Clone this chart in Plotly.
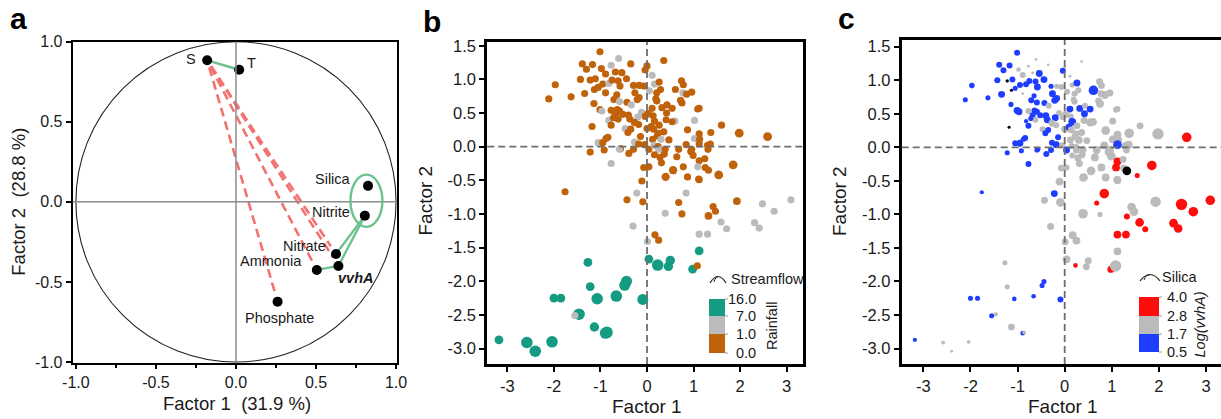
import plotly.graph_objects as go

W, H = 1221, 419
FONT = "Liberation Sans, Arial, Helvetica, sans-serif"
INK = "#1a1a1a"


def PX(x):
    return x / W


def PY(y):
    return 1 - y / H


# ---------------- Panel a : factor loadings ----------------
var_names = ["S", "T", "Silica", "Nitrite", "Nitrate", "vvhA", "Ammonia", "Phosphate"]
load_f1 = [-0.18, 0.02, 0.825, 0.805, 0.625, 0.64, 0.505, 0.26]
load_f2 = [0.884, 0.825, 0.10, -0.086, -0.326, -0.40, -0.425, -0.623]
green_links = [("S", "T"), ("Ammonia", "vvhA"), ("vvhA", "Nitrite"), ("Nitrate", "Nitrite")]
red_links = [("S", "Phosphate"), ("S", "Ammonia"), ("S", "Nitrate"), ("S", "vvhA")]
grouped = ["Silica", "Nitrite"]

# ---------------- Panels b, c : factor scores ----------------
f1 = [
    -1.01, -0.61, 0.36, -1.39, -1.17, -0.77, -0.35, 0.00, -1.30, -0.98,
    -0.68, -0.54, -0.89, -0.04, 0.11, -1.43, -1.22, -1.11, -0.95, -0.82,
    -0.75, -0.62, -0.44, -0.58, -1.97, -1.13, -1.05, -0.89, -0.29, -0.17,
    -0.07, -0.26, 0.05, 0.16, 0.26, 0.21, 0.29, 0.74, 0.78, 0.61,
    0.77, 0.85, 0.96, -2.11, -1.63, -1.34, -0.65, -0.71, -0.59, -0.43,
    -0.34, -0.21, -0.17, 0.19, 0.21, 0.72, 0.75, -1.14, -1.01, -0.97,
    -0.77, -0.64, -0.59, -0.52, -0.68, -0.40, -0.12, 0.11, 0.32, 0.43,
    0.54, 0.42, 1.09, 1.12, -0.82, -0.77, -0.62, -0.72, -0.37, -0.20,
    -0.27, -0.18, -0.04, 0.02, 0.13, 0.16, 0.26, 0.41, 0.60, 1.02,
    -1.18, -0.47, -0.35, -0.41, 0.00, 0.09, 0.14, 0.24, 0.36, 0.54,
    0.87, 1.12, -0.84, -0.88, -1.05, -0.95, -0.57, -0.27, -0.18, -0.14,
    0.12, 0.22, 0.30, 0.47, 0.84, 1.02, 1.13, 1.30, -1.22, -0.92,
    -0.59, -0.39, -0.29, -0.05, 0.04, 0.15, 0.24, 0.25, 0.16, 0.39,
    0.37, 0.28, 0.64, 0.68, 0.94, 0.99, 0.96, 1.12, 1.09, 1.25,
    -0.77, -0.07, 0.04, 0.31, 0.78, 0.56, 0.40, 0.87, 1.12, -0.11,
    -1.76, -0.22, 0.84, -0.43, -0.09, 0.68, 1.60, 1.37, 1.98, 2.59,
    1.36, 1.31, 1.24, 1.32, 1.85, 1.54, 1.11, 1.93, 1.42, 1.47,
    1.32, 2.48, 3.09, 2.73, 1.59, 1.71, 2.31, 2.41, 1.12, 1.30,
    1.12, 0.39, 0.75, -0.30, 0.17, 0.25, 0.01, 0.04, 0.23, 0.50,
    0.46, 0.98, 1.08, -1.27, -0.44, -0.48, -1.22, -2.00, -1.85, -1.07,
    -0.66, -0.09, -1.46, -1.55, -1.13, -0.89, -0.86, -3.18, -2.58, -2.40,
    -2.04, 1.12,
]
f2 = [
    1.41, 1.31, 1.28, 1.23, 1.22, 1.21, 1.23, 1.20, 1.15, 1.16,
    1.11, 1.10, 1.08, 1.14, 1.06, 1.00, 0.99, 1.01, 0.93, 0.94,
    0.99, 0.98, 1.01, 0.90, 0.92, 0.85, 0.88, 0.80, 0.91, 0.91,
    0.90, 0.80, 0.83, 0.93, 0.96, 0.80, 0.85, 0.98, 0.92, 0.85,
    0.80, 0.78, 0.81, 0.71, 0.74, 0.79, 0.77, 0.70, 0.67, 0.66,
    0.62, 0.70, 0.73, 0.71, 0.68, 0.69, 0.65, 0.64, 0.55, 0.53,
    0.54, 0.55, 0.53, 0.48, 0.48, 0.47, 0.51, 0.57, 0.58, 0.62,
    0.57, 0.50, 0.56, 0.57, 0.39, 0.32, 0.41, 0.43, 0.41, 0.44,
    0.36, 0.33, 0.45, 0.49, 0.46, 0.38, 0.32, 0.40, 0.38, 0.39,
    0.30, 0.27, 0.26, 0.21, 0.27, 0.30, 0.26, 0.20, 0.22, 0.37,
    0.25, 0.19, 0.14, 0.12, 0.06, 0.06, -0.03, 0.07, 0.04, 0.15,
    0.11, 0.16, 0.11, 0.10, 0.03, 0.12, 0.11, 0.02, -0.08, -0.05,
    -0.04, -0.10, -0.04, 0.03, -0.04, 0.02, 0.00, -0.04, -0.12, -0.04,
    -0.11, -0.16, -0.15, -0.04, -0.07, -0.13, -0.04, -0.21, -0.30, -0.31,
    -0.25, -0.31, -0.30, -0.24, -0.30, -0.35, -0.45, -0.45, -0.49, -0.51,
    -0.67, -0.69, -0.69, -0.79, -0.82, -0.83, 0.32, 0.21, 0.20, 0.15,
    0.04, -0.04, -0.18, -0.35, -0.27, -0.42, -0.48, -0.81, -0.89, -0.96,
    -1.03, -0.85, -0.79, -0.96, -1.12, -1.22, -1.13, -1.21, -1.30, -1.30,
    -1.55, -0.99, -1.00, -1.18, -1.31, -1.39, -1.41, -1.67, -1.76, -1.69,
    -1.78, -1.82, -1.77, -1.72, -2.00, -2.06, -2.08, -2.25, -2.25, -2.26,
    -2.22, -2.27, -2.49, -2.51, -2.68, -2.77, -2.76, -2.87, -2.91, -3.04,
    -2.90, 0.04,
]
rainfall = [
    0.4, 3.0, 0.4, 0.4, 0.4, 3.0, 0.4, 0.4, 0.4, 0.4,
    0.4, 0.4, 0.4, 0.4, 3.0, 0.4, 0.4, 0.4, 0.4, 3.0,
    0.4, 0.4, 0.4, 0.4, 0.4, 0.4, 0.4, 0.4, 0.4, 0.4,
    0.4, 0.4, 3.0, 3.0, 0.4, 0.4, 0.4, 0.4, 0.4, 0.4,
    3.0, 0.4, 0.4, 0.4, 0.4, 0.4, 0.4, 0.4, 3.0, 0.4,
    3.0, 0.4, 0.4, 0.4, 0.4, 0.4, 0.4, 0.4, 0.4, 3.0,
    0.4, 0.4, 0.4, 0.4, 0.4, 0.4, 3.0, 0.4, 0.4, 0.4,
    0.4, 0.4, 0.4, 0.4, 3.0, 0.4, 0.4, 0.4, 0.4, 3.0,
    0.4, 0.4, 0.4, 0.4, 0.4, 0.4, 0.4, 0.4, 3.0, 3.0,
    0.4, 3.0, 0.4, 0.4, 0.4, 0.4, 0.4, 0.4, 0.4, 0.4,
    0.4, 0.4, 0.4, 0.4, 3.0, 0.4, 0.4, 3.0, 0.4, 0.4,
    0.4, 0.4, 3.0, 0.4, 0.4, 3.0, 0.4, 0.4, 0.4, 0.4,
    3.0, 0.4, 0.4, 0.4, 0.4, 3.0, 0.4, 3.0, 0.4, 0.4,
    0.4, 0.4, 0.4, 0.4, 0.4, 0.4, 0.4, 0.4, 3.0, 0.4,
    3.0, 0.4, 0.4, 0.4, 0.4, 0.4, 0.4, 0.4, 0.4, 0.4,
    0.4, 3.0, 3.0, 0.4, 0.4, 0.4, 0.4, 0.4, 0.4, 0.4,
    0.4, 0.4, 0.4, 0.4, 0.4, 0.4, 0.4, 0.4, 0.4, 0.4,
    0.4, 3.0, 3.0, 3.0, 3.0, 3.0, 3.0, 3.0, 3.0, 3.0,
    10.0, 3.0, 0.4, 3.0, 0.4, 0.4, 3.0, 10.0, 10.0, 10.0,
    10.0, 10.0, 0.4, 10.0, 10.0, 10.0, 10.0, 10.0, 10.0, 10.0,
    10.0, 10.0, 10.0, 3.0, 10.0, 10.0, 10.0, 10.0, 10.0, 10.0,
    10.0, 0.4,
]
streamflow = [
    1, 1, 1, 1, 1, 1, 1, 1, 1, 1,
    1, 1, 1, 1, 1, 1, 1, 1, 1, 1,
    1, 1, 1, 1, 1, 1, 1, 1, 1, 1,
    1, 1, 1, 1, 1, 1, 1, 1, 1, 1,
    1, 1, 1, 1, 1, 1, 1, 1, 1, 1,
    1, 1, 1, 1, 1, 1, 1, 1, 1, 1,
    1, 1, 1, 1, 1, 1, 1, 1, 1, 1,
    1, 1, 1, 1, 1, 1, 1, 1, 1, 1,
    1, 1, 1, 1, 1, 1, 1, 1, 1, 1,
    1, 1, 1, 1, 1, 1, 1, 1, 1, 1,
    1, 1, 1, 1, 1, 1, 1, 1, 1, 1,
    1, 1, 1, 1, 1, 1, 1, 1, 1, 1,
    1, 1, 1, 1, 1, 1, 1, 1, 1, 1,
    1, 1, 1, 1, 1, 1, 1, 1, 1, 1,
    1, 1, 1, 1, 1, 3, 3, 1, 1, 1,
    1, 1, 1, 1, 1, 1, 1, 1, 4, 4,
    1, 1, 1, 1, 4, 4, 1, 2, 1, 1,
    2, 1, 1, 1, 1, 1, 1, 1, 1, 1,
    4, 1, 1, 1, 1, 1, 1, 4, 9, 5,
    5, 4, 1, 4, 8, 8, 4, 4, 4, 9,
    9, 8, 9, 1, 5, 9, 9, 4, 9, 9,
    9, 1,
]
log_vvha = [
    1.2, 2.2, 2.2, 1.2, 1.2, 2.2, 2.2, 2.2, 1.2, 2.2,
    2.2, 1.2, 2.2, 1.2, 2.2, 1.2, None, 1.2, 1.2, 1.2,
    1.2, 1.2, 1.2, 1.2, 1.2, None, 1.2, 2.2, 1.2, 2.2,
    2.2, 1.2, 2.2, 2.2, 1.2, 2.2, 2.2, 2.2, 2.2, 1.2,
    2.2, 2.2, 2.2, 1.2, 1.2, 1.2, 1.2, 1.2, 1.2, 1.2,
    2.2, 1.2, 1.2, 2.2, 2.2, 2.2, 2.2, 1.2, 1.2, 1.2,
    2.2, 1.2, 1.2, 1.2, 1.2, 1.2, 2.2, 1.2, 1.2, 2.2,
    1.2, 1.2, 2.2, 2.2, 1.2, 1.2, 2.2, 1.2, 1.2, 1.2,
    2.2, 2.2, 2.2, 2.2, 2.2, 1.2, 2.2, 2.2, 2.2, 2.2,
    None, 2.2, 1.2, 1.2, 2.2, 1.2, 2.2, 2.2, 2.2, 2.2,
    2.2, 2.2, 1.2, 1.2, 1.2, 1.2, 1.2, 1.2, 1.2, 1.2,
    2.2, 2.2, 2.2, 2.2, 2.2, 2.2, 2.2, 2.2, 1.2, 1.2,
    1.2, 1.2, 1.2, 2.2, 1.2, 2.2, 2.2, 2.2, 2.2, 2.2,
    2.2, 2.2, 2.2, 2.2, 2.2, 2.2, 2.2, 3.4, 3.4, 2.2,
    1.2, 2.2, 2.2, 2.2, 2.2, 2.2, 2.2, 2.2, 2.2, 2.2,
    1.2, 1.2, 3.4, 2.2, 2.2, 3.4, 2.2, 2.2, 2.2, 3.4,
    2.2, 2.2, 2.2, None, 3.4, 3.4, 2.2, 2.2, 2.2, 2.2,
    3.4, 3.4, 3.4, 3.4, 3.4, 3.4, 3.4, 3.4, 3.4, 3.4,
    2.2, 2.2, 2.2, 2.2, 2.2, 2.2, 2.2, 2.2, 3.4, 2.2,
    2.2, 3.4, 2.2, 2.2, 1.2, 1.2, 2.2, 1.2, 1.2, 1.2,
    1.2, 1.2, 2.2, 1.2, 2.2, 1.2, 2.2, 1.2, 2.2, 2.2,
    2.2, 1.2,
]
silica = [
    4, 0.3, 0.3, 4, 4, 0.5, 0.3, 0.5, 4, 2.5,
    0.5, 5, 4, 4, 0.5, 4, 1, 4, 4, 4,
    4, 4, 5, 5, 3.5, 0.8, 3, 0.3, 3, 3,
    4, 5, 4, 3, 5, 4, 4, 5, 5, 8,
    5, 6, 5, 3, 3, 5, 3, 4, 4, 4,
    4, 5, 5, 4, 4, 5, 6, 3, 5, 5,
    4, 4, 4, 4, 4, 5, 4, 5, 5, 4,
    5, 5, 4, 4, 2, 4, 4, 3, 5, 5,
    5, 4, 4, 5, 4, 6, 5, 5, 6, 5,
    0.8, 4, 4, 4, 5, 5, 5, 5, 5, 6,
    7, 6, 4, 3, 4, 5, 3, 4, 5, 4,
    5, 5, 6, 5, 6, 6, 7, 7, 3, 3,
    3, 4, 4, 4, 5, 4, 5, 5, 4, 5,
    5, 5, 6, 6, 7, 7, 6, 6, 6, 5,
    4, 5, 4, 5, 6, 7, 7, 6, 6, 6,
    2, 5, 8, 5, 7, 3, 5, 8, 10, 8,
    6, 5, 5, 7, 8, 3, 5, 9, 7, 7,
    4, 10, 8, 8, 7, 4, 7, 7, 6, 6,
    6, 8, 3, 5, 6, 6, 5, 6, 2.5, 5,
    5, 5, 10, 3, 3, 3, 3, 3, 3, 2.5,
    2.5, 4, 2, 3, 5, 2.5, 1.5, 2, 1.5, 0.5,
    1.5, 7,
]

rain_breaks = [16.0, 7.0, 1.0, 0.0]
vvha_breaks = [4.0, 2.8, 1.7, 0.5]

ORANGE, GREY, TEAL = "#c0620a", "#bbbbbb", "#159b82"
RED, BLUE = "#ff0d0d", "#1f3dff"


def rain_color(v):
    if v >= rain_breaks[1]:
        return TEAL
    if v >= rain_breaks[2]:
        return GREY
    return ORANGE


def vvha_color(v):
    if v is None:
        return "#000000"
    if v >= vvha_breaks[1]:
        return RED
    if v >= vvha_breaks[2]:
        return GREY
    return BLUE


fig = go.Figure()

# ---- panel a traces
idx = {n: i for i, n in enumerate(var_names)}
for a, b in red_links:
    ax, ay = load_f1[idx[a]], load_f2[idx[a]]
    bx, by = load_f1[idx[b]], load_f2[idx[b]]
    fig.add_trace(go.Scatter(
        x=[ax + 0.03 * (bx - ax), ax + 0.96 * (bx - ax)],
        y=[ay + 0.03 * (by - ay), ay + 0.96 * (by - ay)],
        mode="lines", line=dict(color="#f27272", width=2.6, dash="9px,5px"),
        xaxis="x", yaxis="y", showlegend=False, hoverinfo="skip"))
for a, b in green_links:
    fig.add_trace(go.Scatter(
        x=[load_f1[idx[a]], load_f1[idx[b]]], y=[load_f2[idx[a]], load_f2[idx[b]]],
        mode="lines", line=dict(color="#6cc18e", width=2.4),
        xaxis="x", yaxis="y", showlegend=False, hoverinfo="skip"))
fig.add_trace(go.Scatter(
    x=load_f1, y=load_f2, mode="markers", marker=dict(color="black", size=10, opacity=1),
    xaxis="x", yaxis="y", showlegend=False))

label_style = {
    "S": dict(xanchor="right", xshift=-9, yshift=1),
    "T": dict(xanchor="left", xshift=6, yshift=7),
    "Silica": dict(xanchor="right", xshift=-15, yshift=7),
    "Nitrite": dict(xanchor="right", xshift=-13, yshift=4),
    "Nitrate": dict(xanchor="right", xshift=-8, yshift=8),
    "vvhA": dict(xanchor="left", xshift=-2, yshift=-12),
    "Ammonia": dict(xanchor="right", xshift=-13, yshift=9),
    "Phosphate": dict(xanchor="center", xshift=2, yshift=-16),
}
annotations = []
for n in var_names:
    st = label_style[n]
    txt = "<b><i>vvhA</i></b>" if n == "vvhA" else n
    annotations.append(dict(
        x=load_f1[idx[n]], y=load_f2[idx[n]], xref="x", yref="y", text=txt,
        showarrow=False, font=dict(size=14.5, color=INK, family=FONT), **st))

# ---- panel b
fig.add_trace(go.Scatter(
    x=f1, y=f2, mode="markers", xaxis="x2", yaxis="y2", showlegend=False,
    marker=dict(color=[rain_color(v) for v in rainfall], opacity=1,
                size=[6.6 + 0.55 * s for s in streamflow], line=dict(width=0))))
# ---- panel c
fig.add_trace(go.Scatter(
    x=f1, y=f2, mode="markers", xaxis="x3", yaxis="y3", showlegend=False,
    marker=dict(color=[vvha_color(v) for v in log_vvha], opacity=1,
                size=[2.4 + 0.9 * s for s in silica], line=dict(width=0))))

shapes = []
# panel a: unit circle, axes through origin, ellipse grouping
shapes.append(dict(type="circle", xref="x", yref="y", x0=-1, x1=1, y0=-1, y1=1,
                   line=dict(color="#222", width=1.1)))
shapes.append(dict(type="line", xref="x", yref="y domain", x0=0, x1=0, y0=0, y1=1,
                   line=dict(color="#8c8c8c", width=1.5)))
shapes.append(dict(type="line", xref="x domain", yref="y", x0=0, x1=1, y0=0, y1=0,
                   line=dict(color="#8c8c8c", width=1.5)))
gx = [load_f1[idx[n]] for n in grouped]
gy = [load_f2[idx[n]] for n in grouped]
cx, cy = sum(gx) / 2, sum(gy) / 2
hy = (max(gy) - min(gy)) / 2 + 0.07
shapes.append(dict(type="circle", xref="x", yref="y", x0=cx - 0.1, x1=cx + 0.1,
                   y0=cy - hy, y1=cy + hy, line=dict(color="#6cc18e", width=2.4)))
# panels b,c dashed zero lines
for k in ("2", "3"):
    shapes.append(dict(type="line", xref="x" + k, yref="y" + k + " domain", x0=0, x1=0,
                       y0=0, y1=1, line=dict(color="#6e6e6e", width=1.8, dash="7px,4px")))
    shapes.append(dict(type="line", xref="x" + k + " domain", yref="y" + k, x0=0, x1=1,
                       y0=0, y1=0, line=dict(color="#6e6e6e", width=1.8, dash="7px,4px")))


def legend_block(x0, x1, edges, colors, labels, lab_x, lab_anchor, title, title_x, side_text, side_x, side_italic):
    for i, c in enumerate(colors):
        shapes.append(dict(type="rect", xref="paper", yref="paper",
                           x0=PX(x0), x1=PX(x1), y0=PY(edges[i + 1]), y1=PY(edges[i]),
                           line=dict(width=0), fillcolor=c))
    for j, lab in enumerate(labels):
        yy = edges[j]
        shapes.append(dict(type="line", xref="paper", yref="paper", x0=PX(x1), x1=PX(x1 + 3),
                           y0=PY(yy), y1=PY(yy), line=dict(color="#9a9a9a", width=1)))
        annotations.append(dict(x=PX(lab_x), y=PY(yy), xref="paper", yref="paper", text=lab,
                                xanchor=lab_anchor, yanchor="middle", showarrow=False,
                                font=dict(size=14.5, color=INK, family=FONT)))
    # small arc icon
    ax0, ax1 = x0 + 1, x1 + 1
    top = edges[0] - 23
    base = edges[0] - 16
    mid = (ax0 + ax1) / 2
    shapes.append(dict(type="path", xref="paper", yref="paper",
                       path=f"M {PX(ax0)},{PY(base)} Q {PX(mid)},{PY(top - 6)} {PX(ax1)},{PY(base)}",
                       line=dict(color="#222", width=1.2)))
    shapes.append(dict(type="path", xref="paper", yref="paper",
                       path=f"M {PX(ax0 + 4)},{PY(base - 1)} Q {PX(ax0 + 6)},{PY(top)} {PX(mid)},{PY(top + 1)}",
                       line=dict(color="#222", width=1.0)))
    annotations.append(dict(x=PX(title_x), y=PY(base - 4), xref="paper", yref="paper", text=title,
                            xanchor="left", yanchor="middle", showarrow=False,
                            font=dict(size=14.5, color=INK, family=FONT)))
    annotations.append(dict(x=PX(side_x), y=PY((edges[0] + edges[-1]) / 2), xref="paper", yref="paper",
                            text=("<i>%s</i>" % side_text) if side_italic else side_text,
                            textangle=-90, xanchor="center", yanchor="middle", showarrow=False,
                            font=dict(size=14.5, color=INK, family=FONT)))


legend_block(709, 725, [299, 316, 334, 353], [TEAL, GREY, ORANGE],
             ["%.1f" % v for v in rain_breaks], 758, "right", "Streamflow", 729, "Rainfall", 772, False)
legend_block(1139, 1159, [297, 316, 334, 352], [RED, GREY, BLUE],
             ["%.1f" % v for v in vvha_breaks], 1165, "left", "Silica", 1160, "Log(vvhA)", 1199, True)

# axis titles and panel letters (pixel placed)
titles = [
    ("Factor 1\u00a0\u00a0(31.9 %)", 236.7, 403, 0, 18.5),
    ("Factor 2\u00a0\u00a0(28.8 %)", 19, 201.7, -90, 18.5),
    ("Factor 1", 647, 406, 0, 19),
    ("Factor 2", 424.5, 201, -90, 19),
    ("Factor 1", 1063, 406, 0, 19),
    ("Factor 2", 839, 201, -90, 19),
]
for t, x, y, ang, fs in titles:
    annotations.append(dict(x=PX(x), y=PY(y), xref="paper", yref="paper", text=t, textangle=ang,
                            xanchor="center", yanchor="middle", showarrow=False,
                            font=dict(size=fs, color=INK, family=FONT)))
for t, x, y in [("a", 18, 18), ("b", 432, 21), ("c", 846, 19)]:
    annotations.append(dict(x=PX(x), y=PY(y), xref="paper", yref="paper", text="<b>%s</b>" % t,
                            xanchor="center", yanchor="middle", showarrow=False,
                            font=dict(size=30, color="black", family=FONT)))


def axis(domain, rng, ticks, dec, lw, anchor, mirror=True, minor=None, fs=16.5, tl=5):
    d = dict(domain=domain, range=rng, tickvals=ticks,
             ticktext=[("%." + str(dec) + "f") % v for v in ticks],
             showgrid=False, zeroline=False, showline=True, linecolor="black", linewidth=lw,
             mirror=mirror, ticks="outside", ticklen=tl, tickwidth=2, tickcolor="black",
             tickfont=dict(size=fs, color=INK, family=FONT), anchor=anchor, fixedrange=True,
             automargin=False)
    if minor is not None:
        d["minor"] = dict(tickvals=minor, ticks="outside", ticklen=3, tickwidth=1.5, tickcolor="black")
    return d


a_ticks = [-1.0, -0.5, 0.0, 0.5, 1.0]
a_minor = [-0.75, -0.25, 0.25, 0.75]
bc_xticks = [-3, -2, -1, 0, 1, 2, 3]
bc_yticks = [-3.0, -2.5, -2.0, -1.5, -1.0, -0.5, 0.0, 0.5, 1.0, 1.5]

fig.update_layout(
    width=W, height=H, margin=dict(l=0, r=0, t=0, b=0, pad=0, autoexpand=False),
    paper_bgcolor="white", plot_bgcolor="white", showlegend=False,
    font=dict(family=FONT, color=INK),
    xaxis=axis([PX(72.7), PX(397)], [-1.02, 1.006], a_ticks, 1, 2, "y", minor=a_minor, fs=16, tl=4),
    yaxis=axis([PY(363), PY(41.7)], [-1.006, 1.0], a_ticks, 1, 2, "x", fs=16),
    xaxis2=axis([PX(487.3), PX(803)], [-3.43, 3.35], bc_xticks, 0, 3, "y2"),
    yaxis2=axis([PY(364), PY(41.7)], [-3.23, 1.56], bc_yticks, 1, 3, "x2"),
    xaxis3=axis([PX(901.7), 1.0], [-3.46, 3.318], bc_xticks, 0, 3, "y3"),
    yaxis3=axis([PY(364), PY(40)], [-3.23, 1.60], bc_yticks, 1, 3, "x3", mirror=False),
    shapes=shapes, annotations=annotations,
)

fig.write_html("out.html")
